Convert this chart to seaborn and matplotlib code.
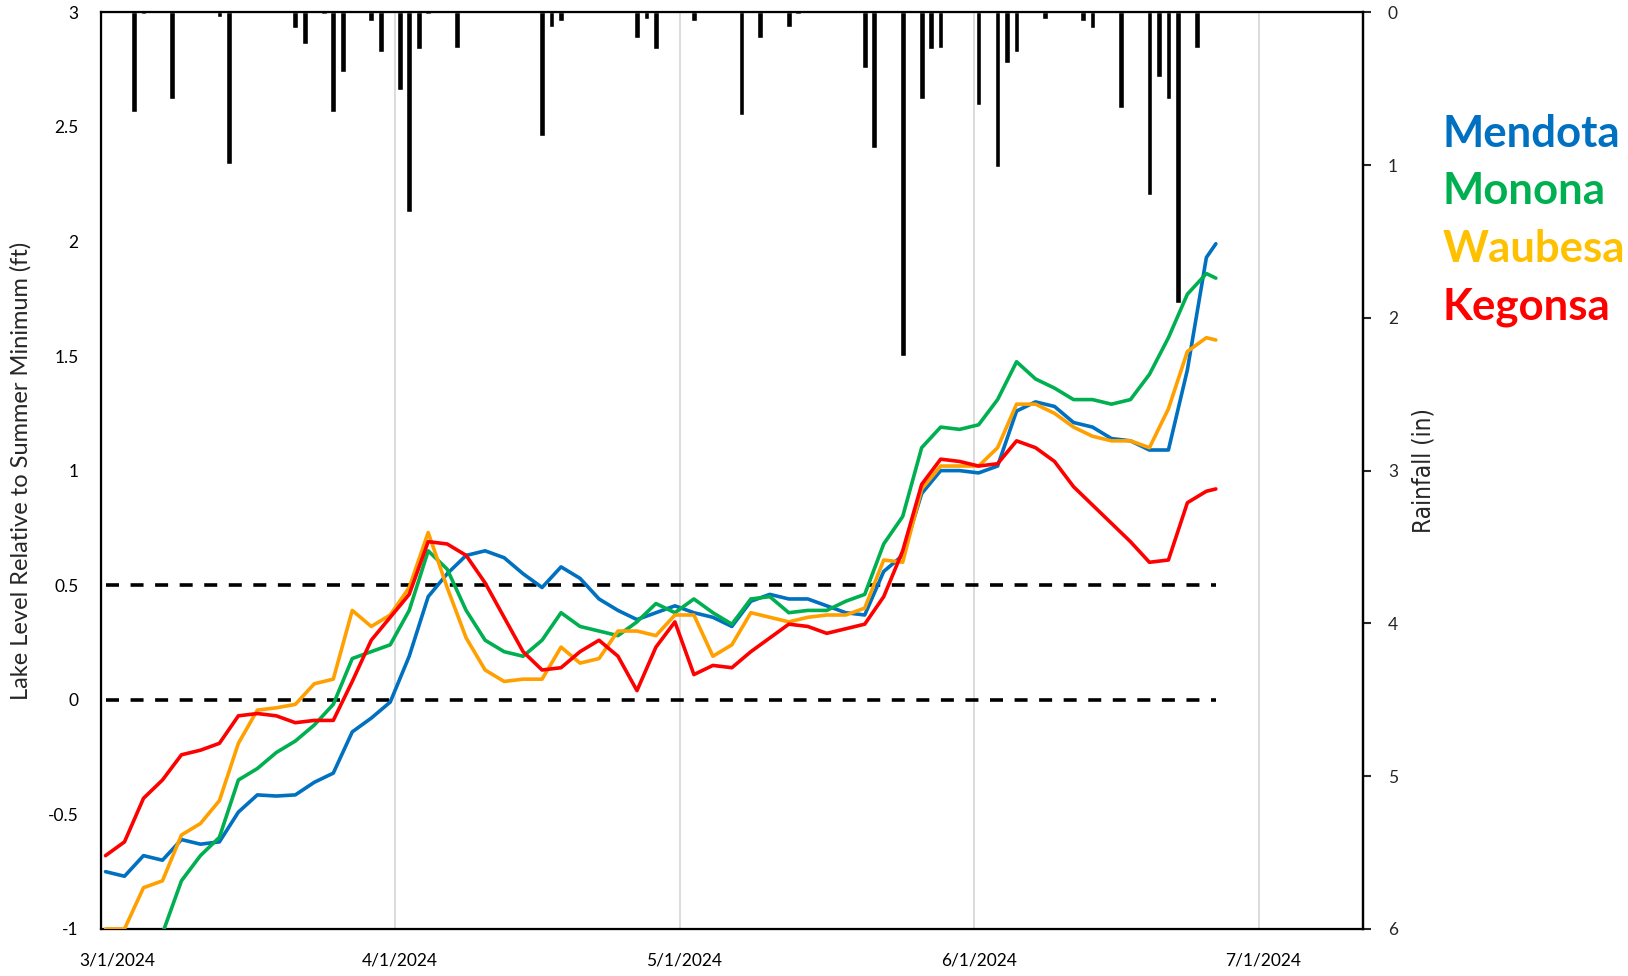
import numpy as np
import pandas as pd
import matplotlib
matplotlib.use('Agg')
import matplotlib.pyplot as plt
import matplotlib.transforms as mtransforms
import seaborn as sns

# Lake levels relative to summer minimum (ft), read every other day
level_dates = ['2024-03-01', '2024-03-03', '2024-03-05', '2024-03-07', '2024-03-09', '2024-03-11',
               '2024-03-13', '2024-03-15', '2024-03-17', '2024-03-19', '2024-03-21', '2024-03-23',
               '2024-03-25', '2024-03-27', '2024-03-29', '2024-03-31', '2024-04-02', '2024-04-04',
               '2024-04-06', '2024-04-08', '2024-04-10', '2024-04-12', '2024-04-14', '2024-04-16',
               '2024-04-18', '2024-04-20', '2024-04-22', '2024-04-24', '2024-04-26', '2024-04-28',
               '2024-04-30', '2024-05-02', '2024-05-04', '2024-05-06', '2024-05-08', '2024-05-10',
               '2024-05-12', '2024-05-14', '2024-05-16', '2024-05-18', '2024-05-20', '2024-05-22',
               '2024-05-24', '2024-05-26', '2024-05-28', '2024-05-30', '2024-06-01', '2024-06-03',
               '2024-06-05', '2024-06-07', '2024-06-09', '2024-06-11', '2024-06-13', '2024-06-15',
               '2024-06-17', '2024-06-19', '2024-06-21', '2024-06-23', '2024-06-25', '2024-06-26']

mendota = [-0.75, -0.77, -0.68, -0.70, -0.61, -0.63, -0.62, -0.49, -0.415, -0.42, -0.415, -0.36,
           -0.32, -0.14, -0.08, -0.01, 0.19, 0.45, 0.55, 0.63, 0.65, 0.62, 0.55, 0.49,
           0.58, 0.53, 0.44, 0.39, 0.35, 0.38, 0.41, 0.38, 0.36, 0.32, 0.43, 0.46,
           0.44, 0.44, 0.41, 0.38, 0.37, 0.56, 0.63, 0.90, 1.00, 1.00, 0.99, 1.02,
           1.26, 1.30, 1.28, 1.21, 1.19, 1.14, 1.13, 1.09, 1.09, 1.44, 1.93, 1.99]

monona = [np.nan, np.nan, np.nan, -1.02, -0.79, -0.68, -0.60, -0.35, -0.30, -0.23, -0.18, -0.11,
          -0.02, 0.18, 0.21, 0.24, 0.39, 0.65, 0.57, 0.39, 0.26, 0.21, 0.19, 0.26,
          0.38, 0.32, 0.30, 0.28, 0.34, 0.42, 0.38, 0.44, 0.38, 0.33, 0.44, 0.45,
          0.38, 0.39, 0.39, 0.43, 0.46, 0.68, 0.80, 1.10, 1.19, 1.18, 1.20, 1.31,
          1.475, 1.40, 1.36, 1.31, 1.31, 1.29, 1.31, 1.42, 1.58, 1.77, 1.86, 1.84]

waubesa = [-1.0, -1.0, -0.82, -0.79, -0.59, -0.54, -0.44, -0.19, -0.045, -0.035, -0.02, 0.07,
           0.09, 0.39, 0.32, 0.37, 0.49, 0.73, 0.49, 0.27, 0.13, 0.08, 0.09, 0.09,
           0.23, 0.16, 0.18, 0.30, 0.30, 0.28, 0.37, 0.37, 0.19, 0.24, 0.38, 0.36,
           0.34, 0.36, 0.37, 0.37, 0.40, 0.61, 0.60, 0.92, 1.02, 1.02, 1.02, 1.10,
           1.29, 1.29, 1.25, 1.19, 1.15, 1.13, 1.13, 1.10, 1.27, 1.52, 1.58, 1.57]

kegonsa = [-0.68, -0.62, -0.43, -0.35, -0.24, -0.22, -0.19, -0.07, -0.06, -0.07, -0.10, -0.09,
           -0.09, 0.08, 0.26, 0.36, 0.46, 0.69, 0.68, 0.63, 0.51, 0.36, 0.21, 0.13,
           0.14, 0.21, 0.26, 0.19, 0.04, 0.23, 0.34, 0.11, 0.15, 0.14, 0.21, 0.27,
           0.33, 0.32, 0.29, 0.31, 0.33, 0.45, 0.65, 0.94, 1.05, 1.04, 1.02, 1.03,
           1.13, 1.10, 1.04, 0.93, 0.85, 0.77, 0.69, 0.60, 0.61, 0.86, 0.91, 0.92]

# Daily rainfall (in)
rain_dates = ['2024-03-04', '2024-03-05', '2024-03-08', '2024-03-13', '2024-03-14', '2024-03-21',
              '2024-03-22', '2024-03-24', '2024-03-25', '2024-03-26', '2024-03-29', '2024-03-30',
              '2024-04-01', '2024-04-02', '2024-04-03', '2024-04-04', '2024-04-07', '2024-04-16',
              '2024-04-17', '2024-04-18', '2024-04-26', '2024-04-27', '2024-04-28', '2024-05-02',
              '2024-05-07', '2024-05-09', '2024-05-12', '2024-05-13', '2024-05-20', '2024-05-21',
              '2024-05-24', '2024-05-26', '2024-05-27', '2024-05-28', '2024-06-01', '2024-06-03',
              '2024-06-04', '2024-06-05', '2024-06-08', '2024-06-12', '2024-06-13', '2024-06-16',
              '2024-06-19', '2024-06-20', '2024-06-21', '2024-06-22', '2024-06-24']
rain_in = [0.65, 0.01, 0.57, 0.03, 0.99, 0.105, 0.21, 0.01, 0.65, 0.39, 0.055, 0.26,
           0.51, 1.31, 0.24, 0.01, 0.235, 0.81, 0.095, 0.055, 0.165, 0.045, 0.24, 0.055,
           0.675, 0.165, 0.095, 0.01, 0.365, 0.885, 2.25, 0.57, 0.24, 0.235, 0.61, 1.01,
           0.335, 0.26, 0.045, 0.06, 0.105, 0.625, 1.195, 0.425, 0.57, 1.905, 0.235]

lake_names = ['Mendota', 'Monona', 'Waubesa', 'Kegonsa']
line_colors = ['#0070C0', '#00B050', '#FFA000', '#FF0000']
label_colors = ['#0070C0', '#00B050', '#FFC000', '#FF0000']
ref_levels = [0, 0.5]

month_dates = ['2024-03-01', '2024-04-01', '2024-05-01', '2024-06-01', '2024-07-01']
month_labels = ['3/1/2024', '4/1/2024', '5/1/2024', '6/1/2024', '7/1/2024']

sns.set_style('white')
plt.rcParams['font.family'] = ['Lato', 'DejaVu Sans']

# points sit in the middle of each day, like the original spreadsheet chart
half_day = pd.Timedelta(hours=12)
t = pd.to_datetime(level_dates) + half_day
levels = pd.DataFrame({'date': t, 'Mendota': mendota, 'Monona': monona,
                       'Waubesa': waubesa, 'Kegonsa': kegonsa})
levels = levels.melt(id_vars='date', var_name='lake', value_name='level').dropna()

fig = plt.figure(figsize=(16.28, 9.76), dpi=100)
ax = fig.add_axes([0.0619, 0.0482, 0.7753, 0.9392])

# reference lines
for lvl in ref_levels:
    ax.plot([t[0], t[-1]], [lvl, lvl], color='black', lw=2.6, dashes=(3.6, 3.2), zorder=2)

sns.lineplot(data=levels, x='date', y='level', hue='lake', hue_order=lake_names,
             palette=line_colors, estimator=None, sort=False, lw=2.6, legend=False,
             solid_joinstyle='round', ax=ax, zorder=3)

month_t = pd.to_datetime(month_dates)
ax.set_xlim(pd.Timestamp('2024-03-01'), pd.Timestamp('2024-07-12'))
ax.set_ylim(-1, 3)
ax.set_yticks(np.arange(-1, 3.01, 0.5))
ax.set_yticklabels(['{:g}'.format(v) for v in np.arange(-1, 3.01, 0.5)])
ax.set_xticks(month_t + half_day)
ax.set_xticklabels(month_labels)
for x in month_t[1:]:
    ax.axvline(x, color='#D9D9D9', lw=1.3, zorder=1)
ax.grid(False)
ax.tick_params(axis='both', length=0, labelsize=12.5, colors='black')
ax.tick_params(axis='x', pad=17)
ax.tick_params(axis='y', pad=16)
# first date label sits a little inside the plot, as in the original
first = ax.get_xticklabels()[0]
first.set_transform(first.get_transform() + mtransforms.ScaledTranslation(0.12, 0, fig.dpi_scale_trans))
ax.set_xlabel('')
ax.set_ylabel('Lake Level Relative to Summer Minimum (ft)', fontsize=17, labelpad=12)
for side in ['left', 'bottom', 'top', 'right']:
    ax.spines[side].set_color('black')
    ax.spines[side].set_linewidth(1.6)

# rainfall hanging from the top on an inverted secondary axis
ax2 = ax.twinx()
ax2.bar(pd.to_datetime(rain_dates) + half_day, rain_in, width=0.6, color='black', zorder=2)
ax2.set_ylim(6, 0)
ax2.set_yticks(range(0, 7))
ax2.tick_params(axis='y', direction='out', length=6, width=1.5, pad=12, labelsize=12.5)
ax2.set_ylabel('Rainfall (in)', fontsize=17.5, labelpad=10, fontstretch='condensed',
               family=['Liberation Sans Narrow', 'DejaVu Sans'])
ax2.spines['right'].set_color('black')
ax2.spines['right'].set_linewidth(1.6)
ax2.grid(False)
ax.set_zorder(ax2.get_zorder() + 1)
ax.patch.set_visible(False)

# lake names as coloured text legend
for i, (name, col) in enumerate(zip(lake_names, label_colors)):
    fig.text(0.886, 0.863 - i * 0.0592, name, color=col, fontsize=31.5,
             fontweight='bold', va='center', ha='left')

fig.savefig('out.png', dpi=100)
